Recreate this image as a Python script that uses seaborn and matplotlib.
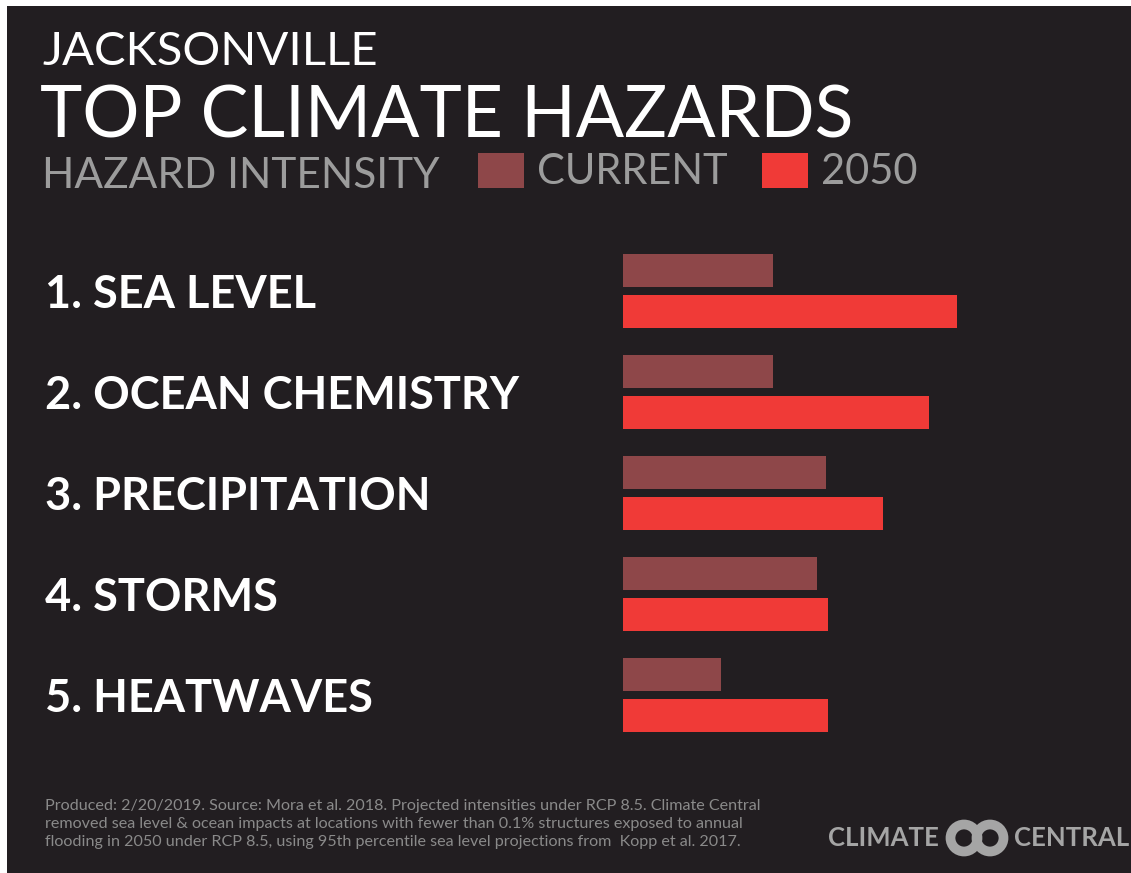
import matplotlib
matplotlib.use("Agg")
import matplotlib.pyplot as plt
from matplotlib.patches import Rectangle, Circle
import seaborn as sns
import pandas as pd

# ---- data ----
categories = ["1. SEA LEVEL", "2. OCEAN CHEMISTRY", "3. PRECIPITATION", "4. STORMS", "5. HEATWAVES"]
current = [4.49, 4.49, 6.08, 5.81, 2.93]
y2050 = [10.0, 9.16, 7.78, 6.14, 6.14]
series_names = ["CURRENT", "2050"]

BG = "#221e21"
C_CUR = "#8e4749"
C_2050 = "#f03a37"
GRAY = "#9c9c9c"

sns.set_theme(style="white")
plt.rcParams["font.family"] = ["Lato", "DejaVu Sans"]

df = pd.DataFrame({
    "hazard": categories * 2,
    "intensity": current + y2050,
    "period": [series_names[0]] * len(categories) + [series_names[1]] * len(categories),
})

W, H = 1131, 873
fig = plt.figure(figsize=(W / 100, H / 100), dpi=100, facecolor=BG)
# thin white border top/left as in reference
fig.patches.append(Rectangle((0, 1 - 6 / H), 1, 6 / H, transform=fig.transFigure,
                             facecolor="white", edgecolor="none", zorder=-10))
fig.patches.append(Rectangle((0, 0), 7 / W, 1, transform=fig.transFigure,
                             facecolor="white", edgecolor="none", zorder=-10))

ax = fig.add_axes([623 / W, 1 - 755.6 / H, 334 / W, 525.2 / H])
ax.set_facecolor("none")
sns.barplot(data=df, y="hazard", x="intensity", hue="period", orient="h",
            palette=[C_CUR, C_2050], width=0.8, gap=0.18, ax=ax,
            saturation=1, linewidth=0)
ax.set_xlim(0, 10)
ax.set_ylim(4.6, -0.6)
ax.set_xlabel("")
ax.set_ylabel("")
ax.set_xticks([])
for s in ax.spines.values():
    s.set_visible(False)

handles, labels = ax.get_legend_handles_labels()
ax.get_legend().remove()

ax.tick_params(axis="y", length=0, pad=(623 - 45) * 0.72)
for lab in ax.get_yticklabels():
    lab.set_horizontalalignment("left")
    lab.set_color("white")
    lab.set_fontsize(32.5)
    lab.set_fontweight("bold")

# titles
fig.text(42 / W, 1 - 65 / H, "JACKSONVILLE", color="white", fontsize=34,
         va="baseline", ha="left")
fig.text(40 / W, 1 - 137 / H, "TOP CLIMATE HAZARDS", color="white", fontsize=51.5,
         va="baseline", ha="left")
fig.text(42 / W, 1 - 188 / H, "HAZARD INTENSITY", color=GRAY, fontsize=30.5,
         va="baseline", ha="left")

fs_leg = 30
px = fs_leg / 0.72
leg = fig.legend(handles, labels, loc="center left", bbox_to_anchor=(478 / W, 1 - 172 / H),
                 ncol=2, frameon=False, fontsize=fs_leg, handlelength=46 / px, handleheight=38 / px,
                 handletextpad=13 / px, columnspacing=34 / px, borderpad=0, borderaxespad=0)
for t in leg.get_texts():
    t.set_color(GRAY)

# footer
footer = ("Produced: 2/20/2019. Source: Mora et al. 2018. Projected intensities under RCP 8.5. Climate Central\n"
          "removed sea level & ocean impacts at locations with fewer than 0.1% structures exposed to annual\n"
          "flooding in 2050 under RCP 8.5, using 95th percentile sea level projections from  Kopp et al. 2017.")
fig.text(45 / W, 1 - 824 / H, footer, color="#8a8a8a", fontsize=11.6, va="center", ha="left",
         linespacing=1.4)

# logo
fig.text(828 / W, 1 - 838 / H, "CLIMATE", color="#a5a5a5", fontsize=18.5, fontweight="bold",
         va="center", ha="left")
fig.text(1014 / W, 1 - 838 / H, "CENTRAL", color="#a5a5a5", fontsize=18.5, fontweight="bold",
         va="center", ha="left")
lax = fig.add_axes([943 / W, 1 - 858 / H, 68 / W, 40 / H])
lax.set_xlim(0, 68)
lax.set_ylim(0, 40)
lax.set_aspect("equal")
lax.axis("off")
for cx in (21, 47):
    lax.add_patch(Circle((cx, 20), 13.5, facecolor="none", edgecolor="#a5a5a5", linewidth=7))

fig.savefig("out.png", dpi=100, facecolor=fig.get_facecolor())
